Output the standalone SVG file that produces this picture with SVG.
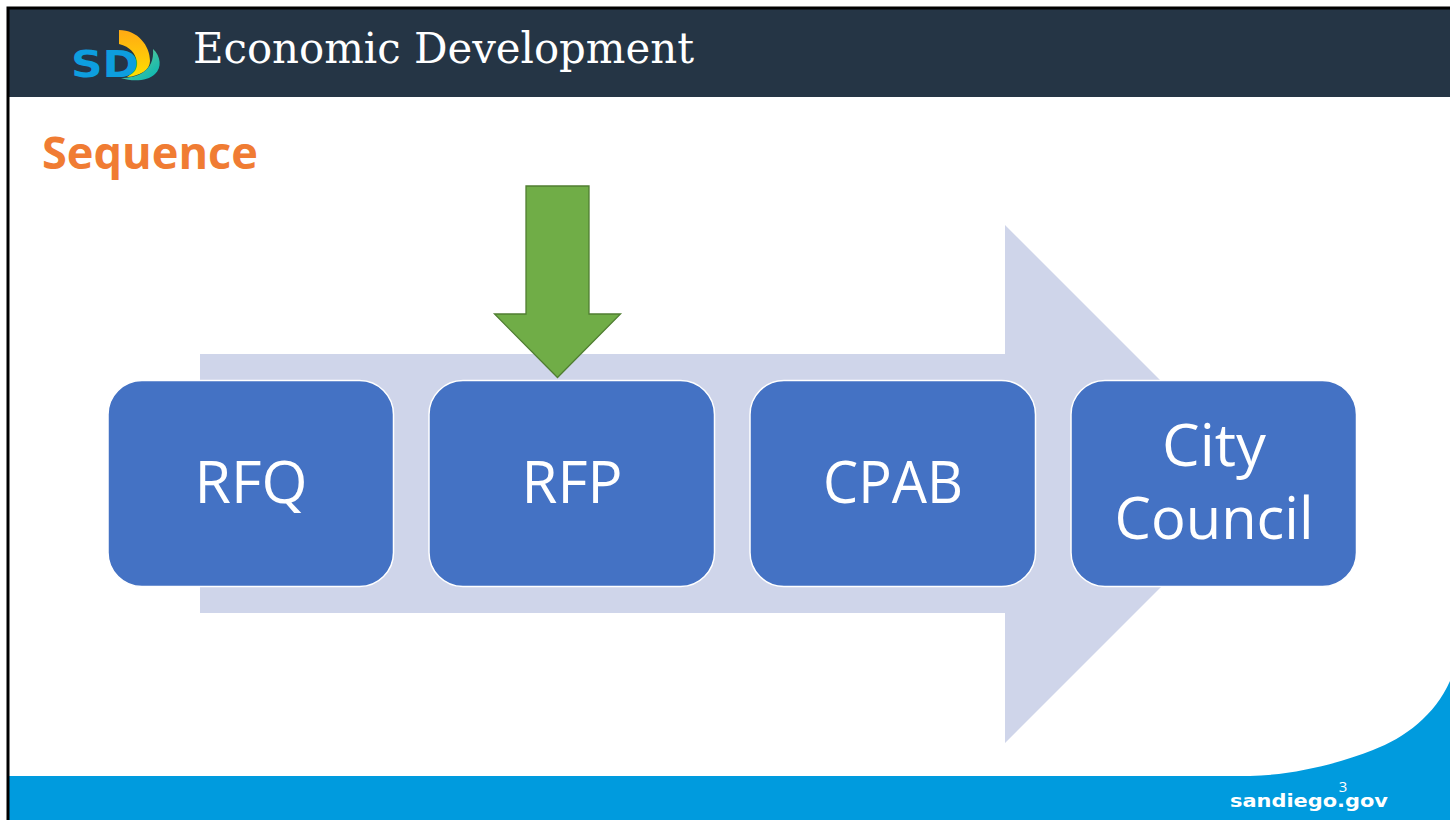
<svg xmlns="http://www.w3.org/2000/svg" width="1450" height="820" viewBox="0 0 1450 820">
<defs>
<linearGradient id="sail" x1="0" y1="0" x2="0" y2="1"><stop offset="0" stop-color="#ffa914"/><stop offset="1" stop-color="#ffdf00"/></linearGradient>
<linearGradient id="wave" x1="0" y1="0" x2="1" y2="1"><stop offset="0" stop-color="#7ccf8a"/><stop offset="1" stop-color="#00b5b8"/></linearGradient>
</defs>
<style>
.box{fill:#4472c4;stroke:#fff;stroke-width:1.5}
.lbl{font-family:"Open Sans","Noto Sans",sans-serif;font-size:59px;fill:#fff;text-anchor:middle}
</style>
<rect width="1450" height="820" fill="#fff"/>
<g id="header">
<rect x="8" y="9" width="1442" height="88" fill="#253545"/>
<g id="logo">
<path d="M119 30C138 30 150 46 150 61C150 70 140 76 127 77C139 70 142 50 119 44Z" fill="url(#sail)"/>
<path d="M153 49C161 56 162 68 155 74C148 81 133 82 121 78C136 78 155 72 153 49Z" fill="url(#wave)"/>
<text x="71" y="77" font-family="'DejaVu Sans',sans-serif" font-weight="700" font-size="38" fill="#0d9ede" textLength="68" lengthAdjust="spacingAndGlyphs">SD</text>
</g>
<text x="193" y="63" font-family="'DejaVu Serif',serif" font-size="43" fill="#fff" textLength="501" lengthAdjust="spacingAndGlyphs">Economic Development</text>
</g>
<text id="heading" x="42" y="169" font-family="'Open Sans',sans-serif" font-weight="700" font-size="44" fill="#f07c33" textLength="216" lengthAdjust="spacingAndGlyphs">Sequence</text>
<g id="footer">
<path d="M8 776H1250C1295 775 1340 763 1373 750C1405 738 1435 715 1450 681V820H8Z" fill="#009bde"/>
<text x="1343" y="792" font-family="'Open Sans',sans-serif" font-size="15" fill="#fff" text-anchor="middle">3</text>
<text x="1309" y="807" font-family="'DejaVu Sans',sans-serif" font-weight="700" font-size="18" fill="#fff" text-anchor="middle" textLength="158" lengthAdjust="spacingAndGlyphs">sandiego.gov</text>
</g>
<path id="frame" d="M8 820V8H1450" fill="none" stroke="#000" stroke-width="3"/>
<g id="connectors">
<path id="big-arrow" d="M200 354H1005V225L1264 484L1005 743V613H200Z" fill="#cfd5ea"/>
<path id="green-arrow" d="M526 186H589V314H620.500L557.500 377.500L494.500 314H526Z" fill="#70ad47" stroke="#507e32" stroke-width="1.300"/>
</g>
<g id="node-rfq"><rect class="box" x="108" y="380.500" width="285.500" height="206" rx="34"/><text class="lbl" x="251" y="503" textLength="113" lengthAdjust="spacingAndGlyphs">RFQ</text></g>
<g id="node-rfp"><rect class="box" x="429" y="380.500" width="285.500" height="206" rx="34"/><text class="lbl" x="572" y="503" textLength="101" lengthAdjust="spacingAndGlyphs">RFP</text></g>
<g id="node-cpab"><rect class="box" x="750" y="380.500" width="285.500" height="206" rx="34"/><text class="lbl" x="893" y="503" textLength="140" lengthAdjust="spacingAndGlyphs">CPAB</text></g>
<g id="node-council"><rect class="box" x="1071" y="380.500" width="285.500" height="206" rx="34"/><text class="lbl" x="1214" y="466" textLength="104" lengthAdjust="spacingAndGlyphs">City</text><text class="lbl" x="1214" y="539" textLength="199" lengthAdjust="spacingAndGlyphs">Council</text></g>
</svg>
